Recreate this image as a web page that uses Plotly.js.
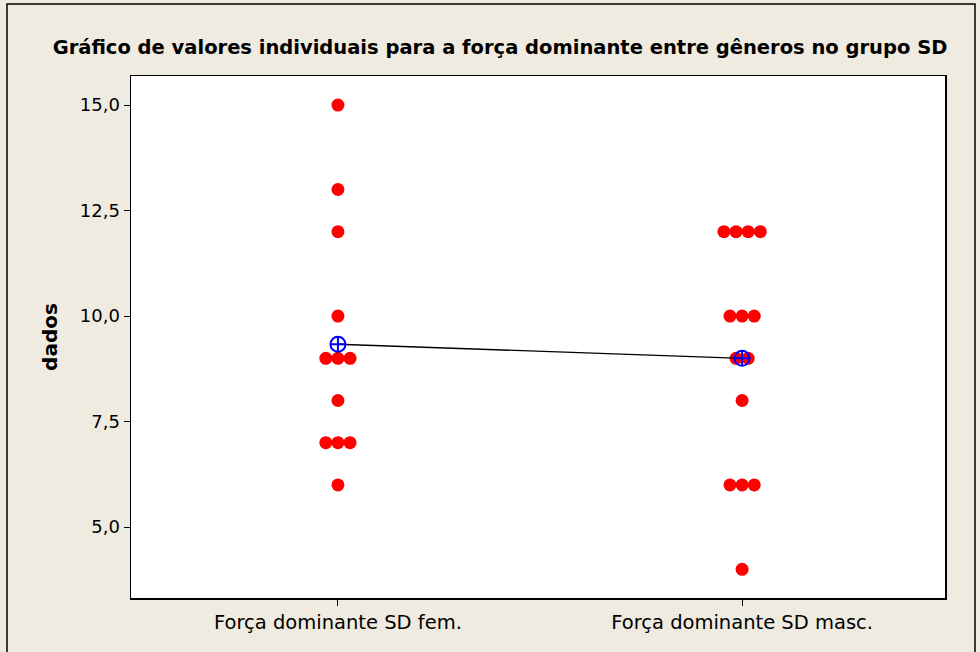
<!DOCTYPE html>
<html>
<head>
<meta charset="utf-8">
<script src="https://cdn.plot.ly/plotly-3.0.1.min.js"></script>
<style>html,body{margin:0;padding:0;background:#EFEBE1;}#chart{width:980px;height:652px;}</style>
</head>
<body>
<div id="chart"></div>
<script>
// Data
const categories = ["Força dominante SD fem.", "Força dominante SD masc."];
const femValues = [15, 13, 12, 10, 9, 9, 9, 8, 7, 7, 7, 6];
const mascValues = [12, 12, 12, 12, 10, 10, 10, 9, 9, 8, 6, 6, 6, 4];
const yTickVals = [5, 7.5, 10, 12.5, 15];

const groups = [femValues, mascValues];
const spacing = 0.0300;

function spread(values, center) {
  const counts = {};
  values.forEach(v => counts[v] = (counts[v] || 0) + 1);
  const xs = [], ys = [];
  Object.keys(counts).forEach(k => {
    const n = counts[k];
    for (let i = 0; i < n; i++) {
      xs.push(center + (i - (n - 1) / 2) * spacing);
      ys.push(Number(k));
    }
  });
  return {xs, ys};
}

const traces = [];
groups.forEach((vals, gi) => {
  const s = spread(vals, gi + 1);
  traces.push({
    x: s.xs, y: s.ys, type: 'scatter', mode: 'markers',
    marker: {color: '#FF0000', size: 13, line: {width: 0}},
    hoverinfo: 'y', showlegend: false
  });
});
const means = groups.map(v => v.reduce((a, b) => a + b, 0) / v.length);
traces.push({
  x: [1, 2], y: means, type: 'scatter', mode: 'lines+markers',
  line: {color: '#000000', width: 1.3},
  marker: {symbol: 'circle-cross-open', size: 15, color: '#0000FF', line: {width: 2, color: '#0000FF'}},
  showlegend: false
});

const L = 131, R = 945, T = 76, B = 598, W = 980, H = 652;
const px = x => (x - L) / (R - L);
const py = y => (B - y) / (B - T);

const layout = {
  width: W, height: H,
  paper_bgcolor: '#EFEBE1', plot_bgcolor: '#FFFFFF',
  margin: {l: L, r: W - R, t: T, b: H - B, pad: 0},
  separators: ',.',
  font: {family: 'DejaVu Sans, Verdana, sans-serif', size: 18, color: '#000'},
  title: {
    text: '<b>Gráfico de valores individuais para a força dominante entre gêneros no grupo SD</b>',
    font: {family: 'DejaVu Sans, Verdana, sans-serif', size: 19.5, color: '#000'},
    x: px(500), xanchor: 'center', y: 1 - 47 / H, yanchor: 'middle', xref: 'paper'
  },
  xaxis: {
    range: [0.488, 2.502], tickvals: [1, 2], ticktext: categories,
    ticks: 'outside', ticklen: 6, tickwidth: 1, tickcolor: '#000',
    showgrid: false, zeroline: false,
    showline: true, linecolor: '#000', linewidth: 1.5, mirror: true,
    tickfont: {size: 19.5}
  },
  yaxis: {
    range: [3.32, 15.69], tickvals: yTickVals, tickformat: '.1f',
    ticks: 'outside', ticklen: 6, tickwidth: 1, tickcolor: '#000',
    showgrid: false, zeroline: false,
    showline: true, linecolor: '#000', linewidth: 1.5, mirror: true,
    title: {text: '<b>dados</b>', font: {size: 20}, standoff: 17},
    tickfont: {size: 18}
  },
  shapes: [{
    type: 'rect', xref: 'paper', yref: 'paper',
    x0: px(7), x1: px(975), y0: py(H + 10), y1: py(4),
    line: {color: '#000', width: 1.5}, fillcolor: 'rgba(0,0,0,0)', layer: 'below'
  }]
};

Plotly.newPlot('chart', traces, layout, {displayModeBar: false, staticPlot: true});
</script>
</body>
</html>
